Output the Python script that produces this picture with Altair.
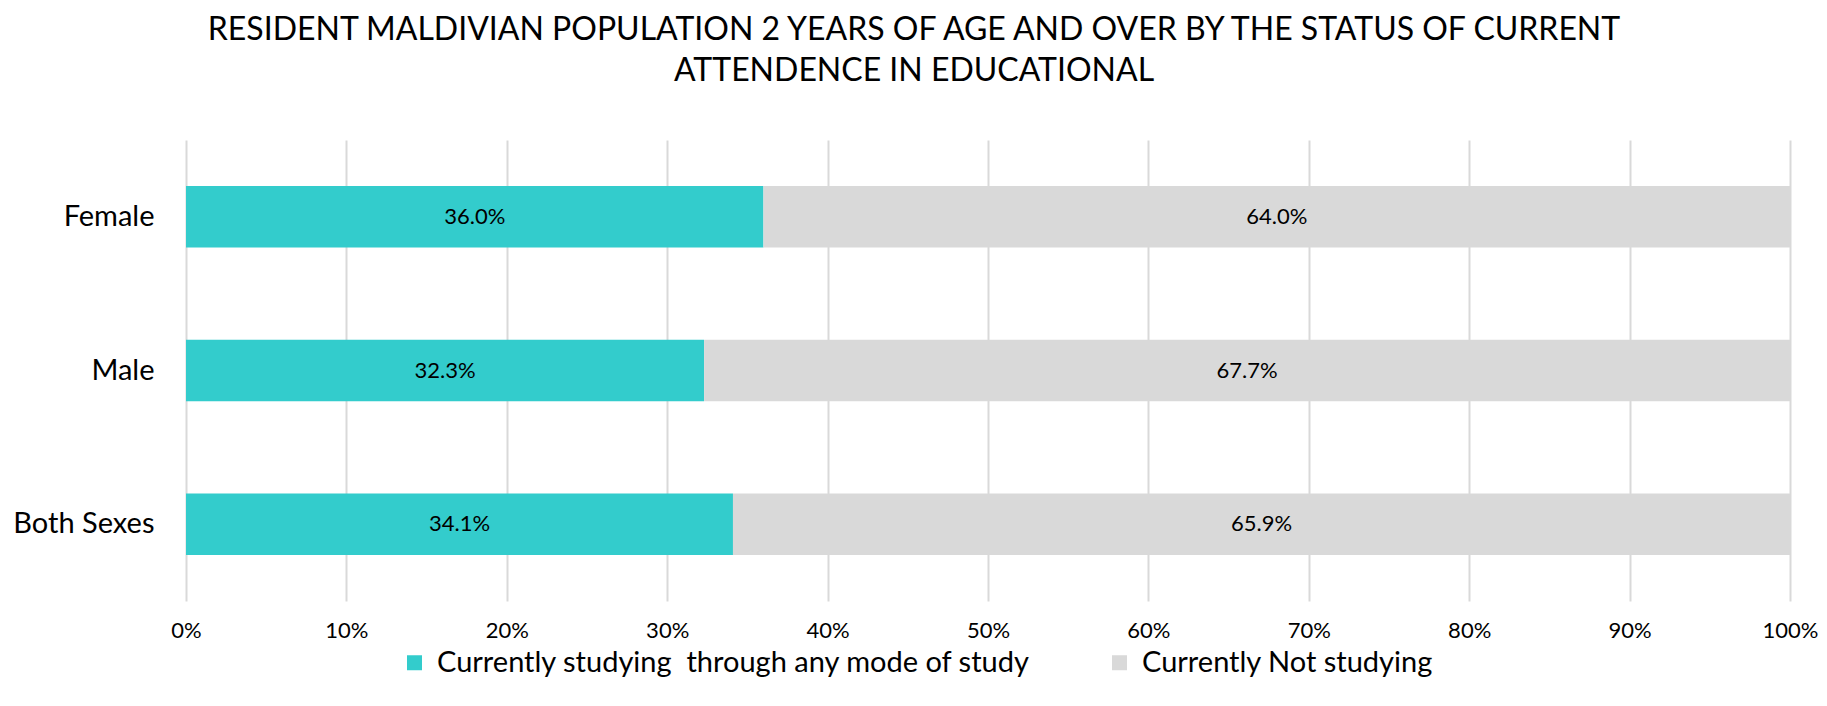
import altair as alt
import pandas as pd

title_lines = [
    "RESIDENT MALDIVIAN POPULATION 2 YEARS OF AGE AND OVER BY THE STATUS OF CURRENT",
    "ATTENDENCE IN EDUCATIONAL",
]
categories = ["Female", "Male", "Both Sexes"]
studying = [36.0, 32.3, 34.1]
not_studying = [64.0, 67.7, 65.9]
series = ["Currently studying\u00a0 through any mode of study", "Currently Not studying"]
colors = ["#33CCCC", "#D9D9D9"]
tick_values = [0.0, 0.1, 0.2, 0.3, 0.4, 0.5, 0.6, 0.7, 0.8, 0.9, 1.0]

rows = []
for i, c in enumerate(categories):
    rows.append({"category": c, "series": series[0], "order": 0, "pct": studying[i]})
    rows.append({"category": c, "series": series[1], "order": 1, "pct": not_studying[i]})
df = pd.DataFrame(rows)

FONT = "Lato"

base = alt.Chart(df).transform_calculate(
    frac="datum.pct / 100"
).transform_stack(
    stack="frac",
    groupby=["category"],
    as_=["v0", "v1"],
    sort=[alt.SortField("order", order="ascending")],
).transform_calculate(
    mid="(datum.v0 + datum.v1) / 2",
    label="format(datum.pct, '.1f') + '%'",
)

y = alt.Y(
    "category:N",
    sort=categories,
    title=None,
    scale=alt.Scale(paddingInner=0.6, paddingOuter=0.3),
    axis=alt.Axis(
        domain=False, ticks=False, tickSize=0, grid=False,
        labelFont=FONT, labelFontSize=29, labelColor="#000000",
        labelPadding=32, labelBaseline="middle",
    ),
)

bars = base.mark_bar().encode(
    x=alt.X(
        "v0:Q",
        title=None,
        scale=alt.Scale(domain=[0, 1], nice=False),
        axis=alt.Axis(
            values=tick_values, format=".0%", domain=False, ticks=False, tickSize=0,
            grid=True, gridColor="#D9D9D9", gridWidth=2,
            labelFont=FONT, labelFontSize=22, labelColor="#000000",
            labelPadding=29, labelBaseline="middle", labelFlush=False, labelOverlap=False,
        ),
    ),
    x2="v1:Q",
    y=y,
    color=alt.Color(
        "series:N",
        scale=alt.Scale(domain=series, range=colors),
        legend=alt.Legend(
            title=None, orient="none", legendX=214, legendY=508, direction="horizontal",
            symbolType="square", symbolSize=225, symbolStrokeWidth=0,
            labelFont=FONT, labelFontSize=29, labelColor="#000000",
            columnPadding=74, labelOffset=8, labelLimit=1000,
        ),
    ),
)

labels = base.mark_text(font=FONT, fontSize=22, color="#000000").encode(
    x="mid:Q",
    y=alt.Y("category:N", sort=categories),
    text="label:N",
)

chart = alt.layer(bars, labels).properties(
    width=1604,
    height=461,
    autosize=alt.AutoSizeParams(type="none"),
    padding={"left": 178, "top": 132, "right": 29, "bottom": 100},
    title=alt.TitleParams(
        text=title_lines, font=FONT, fontSize=32, fontWeight="normal", color="#000000",
        anchor="middle", dx=-74, lineHeight=41, offset=52,
    ),
).configure_view(stroke=None)

chart.save("out.html", embed_options={"renderer": "svg", "actions": False})
